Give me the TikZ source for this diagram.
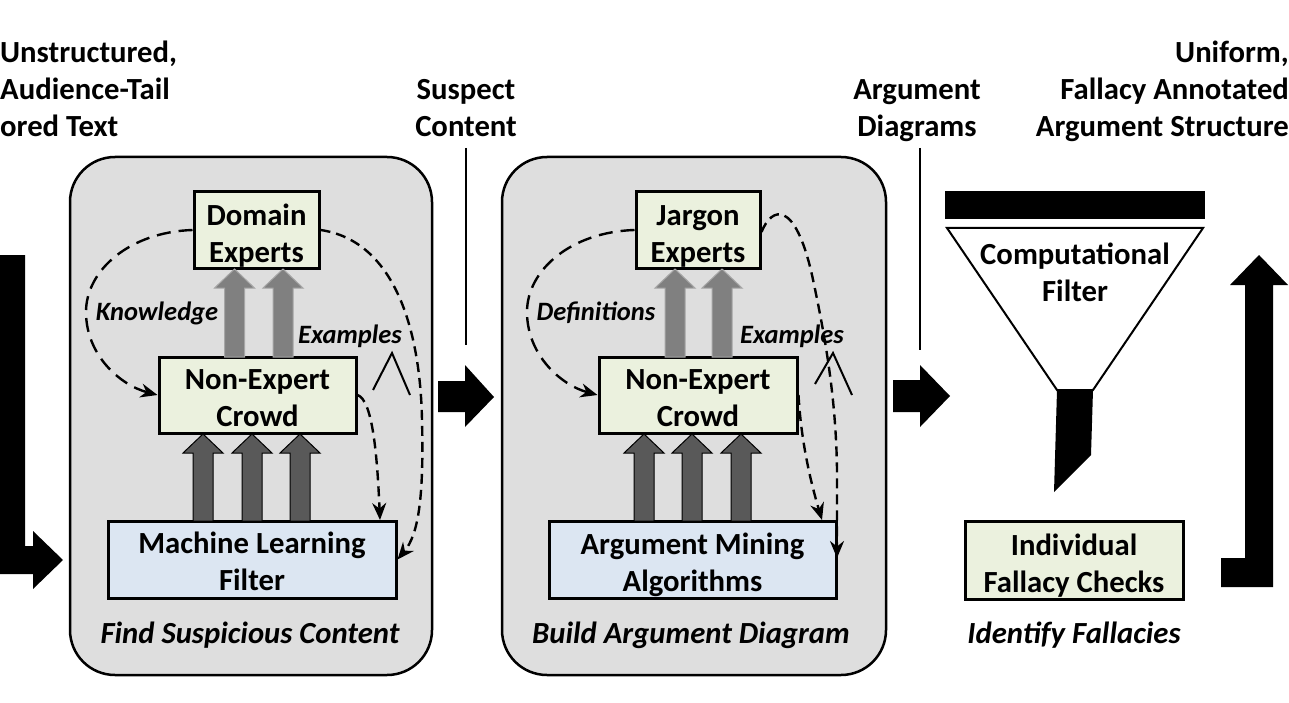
\documentclass[tikz,border=0pt]{standalone}
\usepackage{fontspec}
\setmainfont{Carlito}
\usetikzlibrary{arrows.meta,calc}
\definecolor{boxgreen}{HTML}{EBF1DE}
\definecolor{boxblue}{HTML}{DCE6F2}
\definecolor{panelgray}{HTML}{DEDEDE}
\definecolor{lightarr}{HTML}{808080}
\definecolor{lightedge}{HTML}{A6A6A6}
\definecolor{darkarr}{HTML}{595959}
\newcommand\blkup[5]{%
  \draw[fill=#4, draw=#5, line width=1pt] (#1-10,#2) -- (#1-10,#3+19) -- (#1-20,#3+19) -- (#1,#3) -- (#1+20,#3+19) -- (#1+10,#3+19) -- (#1+10,#2) -- cycle;}
\newcommand\strt{\rule{0pt}{32pt}}
\newcommand\strb{\rule[-7pt]{0pt}{7pt}}
\begin{document}
\begin{tikzpicture}[x=1pt,y=-1pt,
  font=\fontsize{30.7}{37}\selectfont\bfseries,
  box/.style={draw=black, line width=3pt, align=center, inner sep=0pt},
  gbox/.style={box, fill=boxgreen},
  bbox/.style={box, fill=boxblue},
  panel/.style={draw=black, line width=2.5pt, fill=panelgray, rounded corners=45pt, inner sep=0pt},
  lbl/.style={font=\fontsize{26.5}{30}\selectfont\bfseries\itshape, inner sep=0pt},
  pcap/.style={font=\fontsize{30.7}{37}\selectfont\bfseries\itshape, inner sep=0pt},
  ttl/.style={inner sep=0pt},
  dconn/.style={line width=2.4pt, dash pattern=on 10pt off 6pt, -{Stealth[length=17pt,width=14pt]}},
  ldconn/.style={dconn, dash pattern=on 14pt off 8pt},
]
\useasboundingbox (0,0) rectangle (1289,703);

% top labels
\node[ttl, anchor=base west] (t1a) at (0,63) {Unstructured,};
\node[ttl, anchor=base west] (t1b) at (0,100) {Audience-Tail};
\node[ttl, anchor=base west] (t1c) at (0,137) {ored Text};
\node[ttl, anchor=base] (t2a) at (466,100) {Suspect};
\node[ttl, anchor=base] (t2b) at (466,137) {Content};
\node[ttl, anchor=base] (t3a) at (917,100) {Argument};
\node[ttl, anchor=base] (t3b) at (917,137) {Diagrams};
\node[ttl, anchor=base east] (t4a) at (1289,63) {Uniform,};
\node[ttl, anchor=base east] (t4b) at (1289,100) {Fallacy Annotated};
\node[ttl, anchor=base east] (t4c) at (1289,137) {Argument Structure};

% panels
\node[panel, minimum width=362, minimum height=518] (p1) at (251,416) {};
\node[panel, minimum width=384, minimum height=518] (p2) at (694,416) {};

% panel 1 boxes
\node[gbox, minimum width=125, minimum height=76] (dom) at (256.5,230) {\strt Domain\\Experts};
\node[gbox, minimum width=197, minimum height=76] (crowd) at (257.5,395) {\strt Non-Expert\\Crowd\strb};
\node[bbox, minimum width=288, minimum height=77] (mlf) at (252,559.5) {\strt Machine Learning\\Filter\strb};
\node[pcap] (c1) at (250,635) {Find Suspicious Content};

% panel 2 boxes
\node[gbox, minimum width=124, minimum height=76] (jar) at (698,230) {\strt Jargon\\Experts};
\node[gbox, minimum width=198, minimum height=76] (crowd2) at (698,395) {\strt Non-Expert\\Crowd\strb};
\node[bbox, minimum width=287, minimum height=77] (ama) at (692.5,559.5) {\strt Argument Mining\\Algorithms};
\node[pcap] (c2) at (691,635) {Build Argument Diagram};

% block arrows panel 1
\blkup{234.5}{357}{269}{lightarr}{lightedge}
\blkup{283}{357}{269}{lightarr}{lightedge}
\blkup{203}{521}{434}{darkarr}{black}
\blkup{252}{521}{434}{darkarr}{black}
\blkup{300}{521}{434}{darkarr}{black}
% block arrows panel 2
\blkup{675}{357}{269}{lightarr}{lightedge}
\blkup{722}{357}{269}{lightarr}{lightedge}
\blkup{644}{521}{434}{darkarr}{black}
\blkup{692}{521}{434}{darkarr}{black}
\blkup{741}{521}{434}{darkarr}{black}

% dashed connectors panel 1
\draw[ldconn] (dom.west) .. controls (130,232) and (86,270) .. (86,312) .. controls (86,355) and (120,385) .. (crowd.west);
\draw[dconn] (dom.east) .. controls (390,240) and (420,320) .. (422,420) .. controls (424,500) and (418,535) .. (mlf.east);
\draw[dconn] (crowd.east) .. controls (372,400) and (377,450) .. (380,520);
\node[lbl] (k) at (157,313) {Knowledge};
\node[lbl] (e1) at (350,336) {Examples};
\draw[line width=2pt] (373,390) -- (392,353) -- (410,395);

% dashed connectors panel 2
\draw[ldconn] (jar.west) .. controls (571,232) and (527,270) .. (527,312) .. controls (527,355) and (561,385) .. (crowd2.west);
\draw[dconn] ($(jar.east)+(0,2)$) .. controls (772,206) and (795,200) .. (812,275) .. controls (826,340) and (836,400) .. (837,470) -- (837,558);
\draw[dconn] (crowd2.east) .. controls (801,440) and (810,480) .. (822,520);
\node[lbl] (d) at (596,313) {Definitions};
\node[lbl] (e2) at (792,336) {Examples};
\draw[line width=2pt] (815,384) -- (833,353) -- (852,395);

% vertical lines from labels
\coordinate (v1) at (466,345);
\coordinate (v2) at (920,350);
\draw[line width=2pt] (466,148) -- (v1);
\draw[line width=2pt] (920,148) -- (v2);

% big black arrows
\fill (438,381) -- (465,381) -- (465,365) -- (494,397) -- (465,427) -- (465,412) -- (438,412) -- cycle;
\fill (893,380) -- (920,380) -- (920,365) -- (950,396) -- (920,427) -- (920,412) -- (893,412) -- cycle;
\fill (0,255) -- (25,255) -- (25,546) -- (33,546) -- (33,531) -- (63,560) -- (33,589) -- (33,574) -- (0,574) -- cycle;
\fill (1221,558) -- (1245,558) -- (1245,285) -- (1230,285) -- (1259,255) -- (1288,285) -- (1273,285) -- (1273,587) -- (1221,587) -- cycle;

% funnel
\fill (945,191) rectangle (1205,219);
\draw[line width=2pt, fill=white] (947,228) -- (1203,228) -- (1093,390) -- (1057,390) -- cycle;
\fill (1057,390) -- (1093,390) -- (1091,455) -- (1054,492) -- cycle;
\node[align=center, inner sep=0pt] (cf) at (1075,272) {Computational\\Filter};

\node[gbox, minimum width=218, minimum height=78] (ifc) at (1074,560) {\strt Individual\\Fallacy Checks};
\node[pcap] (c3) at (1074,635) {Identify Fallacies};
\end{tikzpicture}
\end{document}
